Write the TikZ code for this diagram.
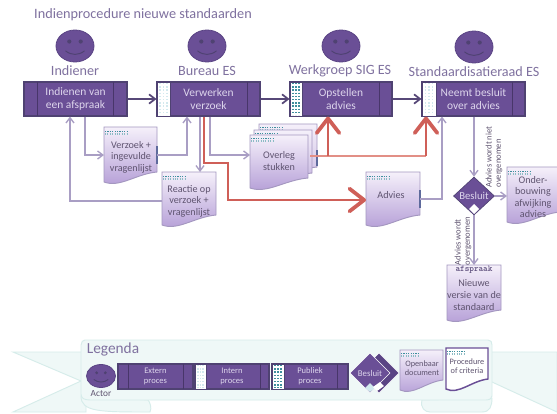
\documentclass[tikz,border=0pt]{standalone}
\usepackage{fontspec}
\setmainfont{Carlito}
\usetikzlibrary{arrows.meta,shapes.geometric,calc}
\definecolor{pfill}{HTML}{6A4F96}
\definecolor{pline}{HTML}{4F4272}
\definecolor{pbar}{HTML}{5A4484}
\definecolor{ptext}{HTML}{DDD5EC}
\definecolor{head}{HTML}{7F719F}
\definecolor{conn}{HTML}{A99EC4}
\definecolor{main}{HTML}{574878}
\definecolor{dtext}{HTML}{5F5470}
\definecolor{dline}{HTML}{A497C0}
\definecolor{dtop}{HTML}{F5F0FA}
\definecolor{dbot}{HTML}{B39CD6}
\definecolor{tealm}{HTML}{3F8F9E}
\definecolor{tealp}{HTML}{D3E9EE}
\definecolor{edgem}{HTML}{5E6A9C}
\definecolor{redt}{HTML}{CF5F58}
\definecolor{redl}{HTML}{E28F86}
\definecolor{leg}{HTML}{EFF8F7}
\definecolor{legl}{HTML}{D6ECEA}
\tikzset{
  x=0.75pt,y=-0.75pt,
  procbox/.style={rectangle,draw=pline,line width=0.8pt,fill=pfill,text=ptext,align=center,inner sep=0pt,font=\fontsize{8.6}{10}\selectfont},
  barline/.style={draw=pbar!80!black,line width=0.7pt},
  headtxt/.style={text=head,inner sep=0pt,font=\fontsize{10.6}{12}\selectfont},
  doctxt/.style={text=dtext,align=center,inner sep=0pt,font=\fontsize{7.6}{8.7}\selectfont},
  smalltxt/.style={text=dtext,align=center,inner sep=0pt,font=\fontsize{7}{8}\selectfont},
  facebox/.style={ellipse,draw=pbar,line width=0.6pt,fill=pfill,inner sep=0pt},
  thinconn/.style={draw=conn,line width=1pt,-{Straight Barb[length=4pt,width=6pt]}},
  mainconn/.style={draw=main,line width=1.3pt,-{Straight Barb[length=4.5pt,width=7pt]}},
  redbig/.style={draw=redt,line width=1.7pt,-{Straight Barb[length=11pt,width=17pt,line width=2.8pt,round]}},
  rotlab/.style={rotate=90,align=left,text=dtext,inner sep=0pt,font=\fontsize{6.4}{6.9}\selectfont},
}
% name, cx, cy, rx, ry
\newcommand\facenode[5]{%
  \node[facebox,minimum width=#4*1.5pt,minimum height=#5*1.5pt] (#1) at (#2,#3) {};
  \fill[pline] ({#2-0.3*#4},{#3-0.28*#5}) circle (0.11*#4*0.75pt);
  \fill[pline] ({#2+0.3*#4},{#3-0.28*#5}) circle (0.11*#4*0.75pt);
  \draw[pline,line width=0.7pt] ({#2-0.5*#4},{#3+0.3*#5}) .. controls ({#2-0.2*#4},{#3+0.6*#5}) and ({#2+0.2*#4},{#3+0.6*#5}) .. ({#2+0.5*#4},{#3+0.3*#5});
}
% name, x1, y1, x2, y2, xleft, xright(bar), text
\newcommand\procnode[8]{%
  \node[procbox,minimum width={(#4-#2)*0.75pt},minimum height={(#5-#3)*0.75pt}] (#1) at ({(#2+#4)/2},{(#3+#5)/2}) {#8};
  \draw[barline] (#6,#3) -- (#6,#5);
  \draw[barline] (#7,#3) -- (#7,#5);
}
% dotted left panel: x1,y1,x2,y2,dot colour
\newcommand\leftpanel[5]{%
  \fill[white,draw=pline,line width=0.6pt] (#1,#2) rectangle (#3,#4);
  \foreach \f in {0.25,0.5,0.75}{
    \draw[draw=#5,line width=1.2pt,dash pattern=on 1pt off 1.4pt] ({#1+\f*(#3-#1)},{#2+1}) -- ({#1+\f*(#3-#1)},{#4-1});
  }
}
% document outline
\newcommand\docpath[4]{(#1,#2) -- (#3,#2) -- (#3,{#4-13}) .. controls ({#1+0.6*(#3-#1)},{#4-11}) and ({#1+0.3*(#3-#1)},{#4+3}) .. (#1,{#4-3}) -- cycle}
% name, x1, y1, x2, y2, text cx, text cy, text
\newcommand\docnode[8]{%
  \path[draw=dline,line width=0.7pt,top color=dtop,bottom color=dbot] \docpath{#2}{#3}{#4}{#5};
  \node[doctxt,minimum size=0pt] (#1) at (#6,#7) {#8};
}
\newcommand\tealmarks[3]{%
  \draw[draw=tealm,line width=1.1pt,dash pattern=on 0.9pt off 0.9pt] (#1,{#2+2.5}) -- ({#1+#3},{#2+2.5});
  \draw[draw=tealm!60,line width=1pt,dash pattern=on 0.7pt off 1.1pt] (#1,{#2+5}) -- ({#1+#3},{#2+5});
}
\newcommand\edgetick[3]{\draw[draw=edgem,line width=0.8pt] (#1,#2) -- (#1,#3);}
\begin{document}
\begin{tikzpicture}
\useasboundingbox (0,0) rectangle (557,414);
\fill[white] (0,0) rectangle (557,414);

\node[text=head,inner sep=0pt,font=\fontsize{10.7}{13}\selectfont] (title) at (143,15) {Indienprocedure nieuwe standaarden};

% actors
\facenode{f1}{75}{46}{19}{16}
\facenode{f2}{207}{46}{19}{16}
\facenode{f3}{341}{46}{19}{16}
\facenode{f4}{474}{47}{19}{16}
\node[headtxt] (l1) at (75,71) {Indiener};
\node[headtxt] (l2) at (207,71) {Bureau ES};
\node[headtxt] (l3) at (340,71) {Werkgroep SIG ES};
\node[headtxt] (l4) at (474,72) {Standaardisatieraad ES};

% processes
\procnode{ind}{24}{82}{127}{116}{37}{113}{Indienen van\\een afspraak}
\procnode{bur}{157}{82}{260}{116}{170}{247}{Verwerken\\verzoek}
\leftpanel{157}{82}{170}{116}{tealp}
\procnode{wg}{290}{82}{392}{116}{302}{379}{Opstellen\\advies}
\leftpanel{290}{82}{302}{116}{tealm}
\procnode{sr}{422}{82}{525}{116}{436}{512}{Neemt besluit\\over advies}
\leftpanel{422}{82}{436}{116}{tealp}

% documents
\docnode{dv}{104}{127}{157}{185}{131}{157}{Verzoek +\\ingevulde\\vragenlijst}
\tealmarks{105}{129}{22}
\edgetick{157}{146}{164}
\docnode{dr}{162}{172}{216}{228}{189}{201}{Reactie op\\verzoek +\\vragenlijst}
\tealmarks{163}{174}{22}
\path[draw=dline,line width=0.7pt,top color=dtop,bottom color=dbot!70] \docpath{259}{124}{317}{180};
\tealmarks{260}{125}{22}
\edgetick{317}{150}{166}
\path[draw=dline,line width=0.7pt,top color=dtop,bottom color=dbot!80] \docpath{254}{130}{312}{186};
\tealmarks{255}{131}{22}
\docnode{dov}{250}{135}{308}{191}{279}{161}{Overleg\\stukken}
\tealmarks{251}{136}{22}
\docnode{da}{366}{172}{420}{228}{391}{195}{Advies}
\tealmarks{367}{174}{22}
\edgetick{420}{190}{208}
\docnode{don}{507}{167}{560}{225}{533}{197}{Onder-\\bouwing\\afwijking\\advies}
\tealmarks{508}{169}{22}
\docnode{dn}{447}{265}{501}{323}{474}{295}{Nieuwe\\versie van de\\standaard}
\node[text=main,inner sep=0pt,font=\fontsize{6.6}{7}\ttfamily\bfseries] (dnt) at (474,269.5) {afspraak};

% decision
\node[diamond,aspect=1.08,draw=pline,line width=0.5pt,fill=pfill,text=ptext,inner sep=0pt,minimum width=41*0.75pt,minimum height=38*0.75pt,font=\fontsize{8}{9}\selectfont] (bes) at (474,196) {Besluit};
\fill[white] (474,204) -- (479,209) -- (474,214) -- (469,209) -- cycle;

% main flow
\draw[mainconn] (ind.east) -- (bur.west);
\draw[mainconn] (bur.east) -- (wg.west);
\draw[mainconn] (wg.east) -- (sr.west);

% thin connectors
\draw[thinconn] (85,0 |- ind.south) |- (104,155);
\draw[thinconn] (157,155) -| (187,0 |- bur.south);
\draw[thinconn] (200,0 |- bur.south) -- (200,172);
\draw[thinconn] (162,201) -| (70,0 |- ind.south);
\draw[thinconn] (210,0 |- bur.south) |- (250,155);
\draw[thinconn] (420,199) -| (442,0 |- sr.south);
\draw[thinconn] (474,0 |- sr.south) -- (bes.north);
\draw[thinconn] (bes.east) -- (507,196);
\draw[thinconn] (bes.south) -- (474,265);

\node[rotlab] (r1) at (494,157) {Advies wordt niet\\overgenomen};
\node[rotlab] (r2) at (463,241) {Advies wordt\\overgenomen};

% red emphasis
\draw[redbig] (204,0 |- bur.south) -- (204,163) -- (228,163) -- (228,200) -- (366,200);
\draw[draw=redl,line width=1pt] (310,156) -- (426,156);
\draw[redbig] (328,156) -- (328,0 |- wg.south);
\draw[redbig] (426,156) -- (426,0 |- sr.south);

% legend ribbon
\path[fill=leg,draw=legl,line width=0.7pt] (13,352) -- (86,352) -- (86,412) -- (13,412) -- (81,381) -- cycle;
\path[fill=leg,draw=legl,line width=0.7pt] (486,352) -- (557,352) -- (557,412) -- (492,382) -- (486,382) -- cycle;
\path[fill=leg,draw=legl,line width=0.7pt] (81,396) .. controls (81,412) and (100,412) .. (150,412) .. controls (152,408) and (150,402) .. (148,400) -- cycle;
\path[fill=leg,draw=legl,line width=0.7pt] (422,400) .. controls (420,408) and (425,412) .. (430,412) -- (482,412) .. controls (490,412) and (492,406) .. (492,398) -- cycle;
\path[fill=leg,draw=legl,line width=0.7pt] (85,340) -- (488,340) .. controls (491,340) and (492,342) .. (492,345) -- (492,396) .. controls (492,398) and (490,400) .. (486,400) -- (90,400) .. controls (84,400) and (81,398) .. (81,394) -- (81,345) .. controls (81,342) and (83,340) .. (85,340) -- cycle;
\node[text=head,inner sep=0pt,font=\fontsize{11.5}{13}\selectfont] (legt) at (113,349) {Legenda};

\facenode{fa}{101}{376}{14.5}{11.5}
\node[smalltxt] (actor) at (101,394) {Actor};
\tikzset{procbox/.append style={font=\fontsize{6.4}{7.6}\selectfont}}
\procnode{le}{118}{364}{193}{389}{128}{183}{Extern\\proces}
\procnode{li}{195}{364}{269}{389}{206}{260}{Intern\\proces}
\leftpanel{195}{364}{206}{389}{tealp}
\procnode{lp}{272}{364}{348}{389}{284}{337}{Publiek\\proces}
\leftpanel{272}{364}{284}{389}{tealm}

\path[fill=pbar,draw=white,line width=0.4pt] (379,353) -- (399,373) -- (379,393) -- (359,373) -- cycle;
\node[diamond,draw=white,line width=0.4pt,fill=pfill,text=ptext,inner sep=0pt,minimum width=40*0.75pt,minimum height=40*0.75pt,font=\fontsize{6.6}{8}\selectfont] (lb) at (370,373) {Besluit};
\fill[tealp] (370,383) -- (375,388) -- (370,392) -- (365,388) -- cycle;
\fill[white] (380,382) -- (384,386) -- (377,391) -- (373,387) -- cycle;

\tikzset{doctxt/.append style={font=\fontsize{6.2}{7.2}\selectfont}}
\docnode{lo}{400}{350}{443}{393}{422}{368}{Openbaar\\document}
\tealmarks{401}{351}{17}
\path[fill=white,draw=pfill,line width=1.1pt] \docpath{446}{348}{488}{392};
\tealmarks{447}{349}{17}
\node[doctxt] (lc) at (467,366) {Procedure\\of criteria};
\end{tikzpicture}
\end{document}
